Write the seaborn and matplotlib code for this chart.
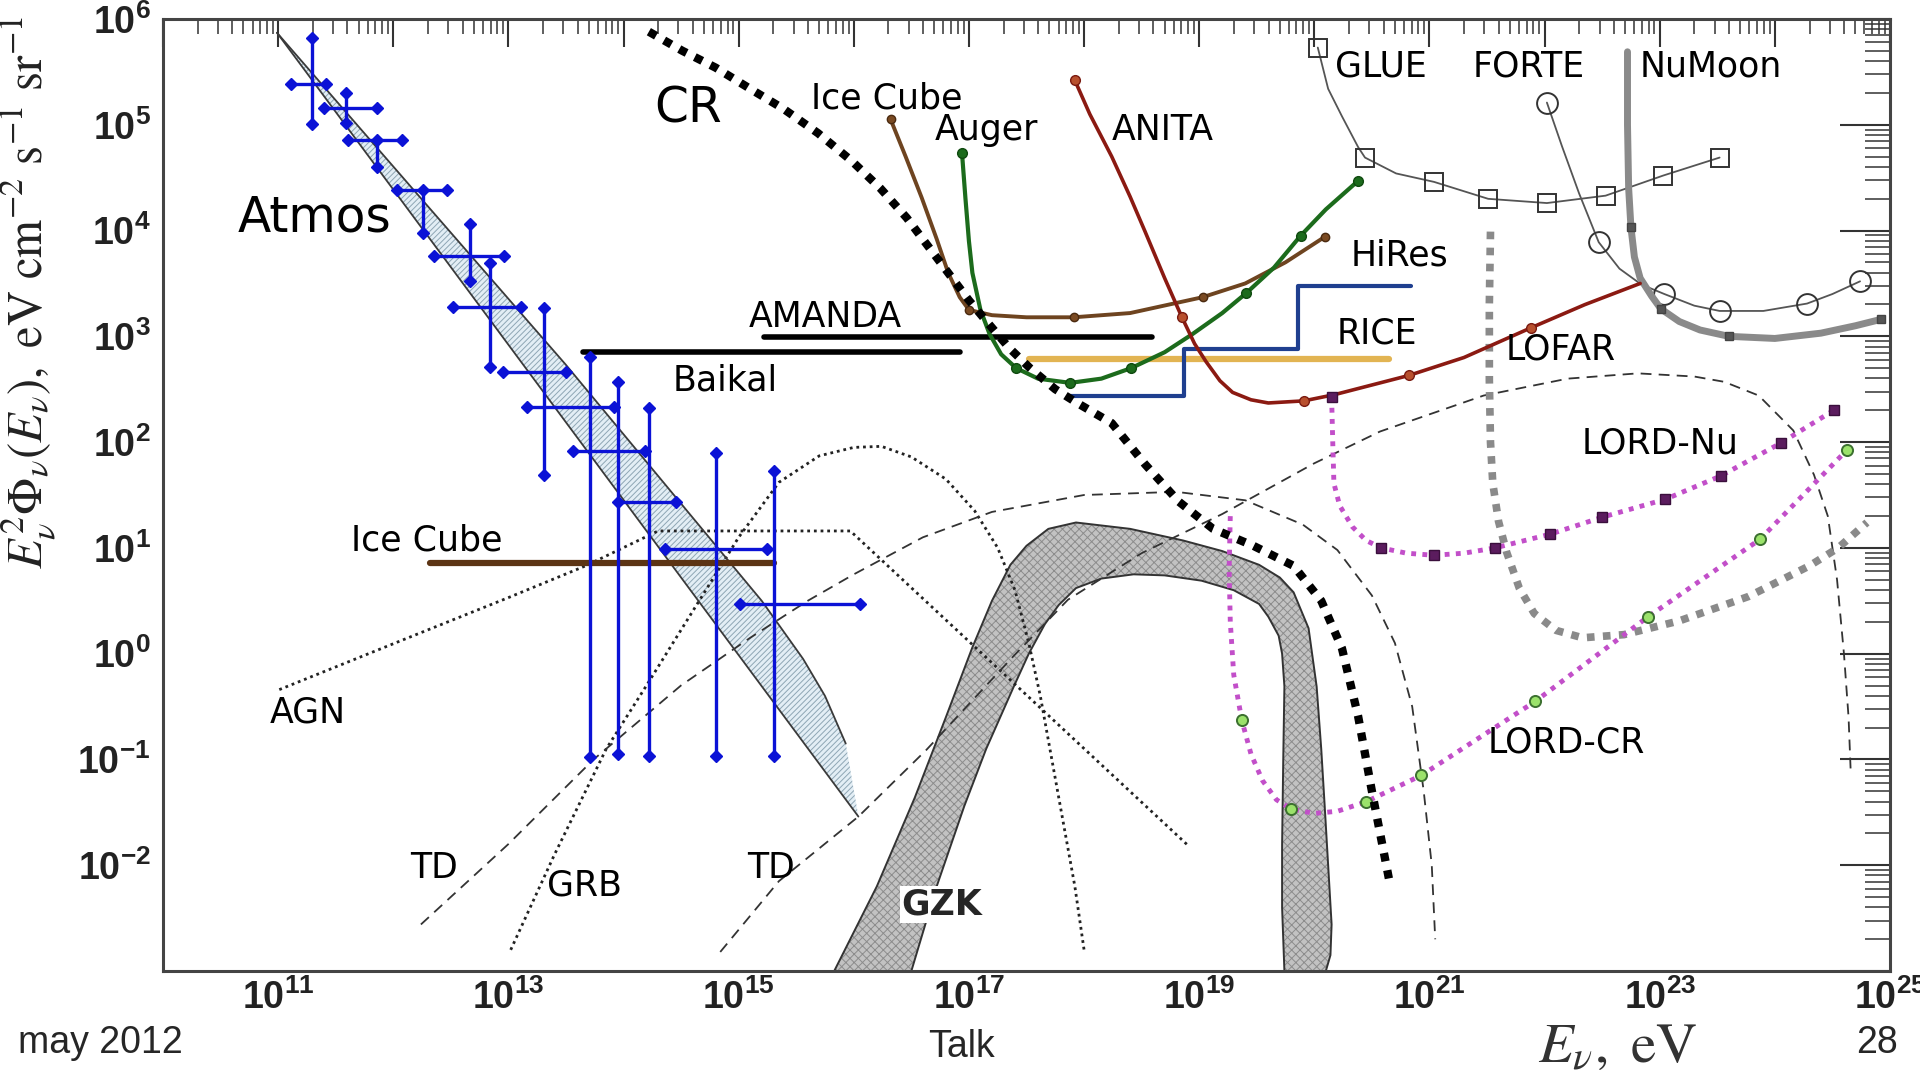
import numpy as np
import matplotlib
matplotlib.use("Agg")
import matplotlib.pyplot as plt
import seaborn as sns
from matplotlib.ticker import LogLocator, FuncFormatter, NullFormatter

sns.set_style("white")
plt.rcParams["font.family"] = ["DejaVu Sans"]
plt.rcParams["mathtext.fontset"] = "custom"
plt.rcParams["mathtext.rm"] = "Liberation Sans"
plt.rcParams["mathtext.it"] = "Liberation Sans:italic"
plt.rcParams["mathtext.bf"] = "Liberation Sans:bold"
plt.rcParams["hatch.linewidth"] = 0.7

# ------------------------------------------------------------------
# Data: every value is log10(E / eV) for x and log10(E^2 Phi) for y
# ------------------------------------------------------------------

# Atmospheric neutrino measurements (centre, vertical and horizontal bars)
atm_x   = [11.29, 11.59, 11.86, 12.26, 12.67, 12.84, 13.31, 13.71, 13.95, 14.22, 14.80, 15.31]
atm_y   = [5.39, 5.16, 4.86, 4.38, 3.76, 3.28, 2.66, 2.33, 1.92, 1.43, 0.99, 0.47]
atm_ylo = [5.01, 5.02, 4.60, 3.98, 3.52, 2.71, 1.69, -0.98, -0.95, -0.97, -0.97, -0.97]
atm_yhi = [5.82, 5.30, 4.86, 4.38, 4.06, 3.69, 3.27, 2.80, 2.57, 2.32, 1.90, 1.73]
atm_xlo = [11.11, 11.40, 11.61, 12.03, 12.35, 12.52, 12.95, 13.16, 13.56, 13.95, 14.36, 15.01]
atm_xhi = [11.42, 11.86, 12.08, 12.47, 12.96, 13.11, 13.50, 13.92, 14.19, 14.46, 15.25, 16.05]

# Atmospheric band (two boundaries)
atmband_lo_x = [10.99, 16.04]
atmband_lo_y = [5.87, -1.54]
atmband_hi_x = [10.99, 12.30, 13.50, 14.75, 15.20, 15.56, 15.75, 15.93]
atmband_hi_y = [5.87, 4.23, 2.73, 1.09, 0.50, -0.05, -0.40, -0.85]

# Horizontal limits
amanda_x, amanda_y = [15.22, 18.59], [2.99, 2.99]
baikal_x, baikal_y = [13.65, 16.92], [2.85, 2.85]
icecube_lo_x, icecube_lo_y = [12.32, 15.31], [0.86, 0.86]
rice_x, rice_y = [17.52, 20.65], [2.79, 2.79]

# HiRes step limit
hires_x = [17.87, 18.87, 18.87, 19.86, 19.86, 20.84]
hires_y = [2.44, 2.44, 2.88, 2.88, 3.48, 3.48]

# Cosmic-ray flux
cr_x = [14.22, 14.51, 14.80, 15.10, 15.39, 15.69, 15.98, 16.23, 16.46, 16.64, 16.82, 17.00,
        17.17, 17.35, 17.53, 17.75, 17.94, 18.24, 18.53, 18.82, 19.12, 19.47, 19.82, 20.06,
        20.24, 20.38, 20.50, 20.65]
cr_y = [5.88, 5.70, 5.54, 5.34, 5.15, 4.92, 4.66, 4.40, 4.12, 3.86, 3.60, 3.34,
        3.12, 2.89, 2.70, 2.50, 2.37, 2.18, 1.79, 1.44, 1.18, 1.02, 0.83, 0.50,
        0.05, -0.59, -1.30, -2.14]

# IceCube sensitivity
ic_x = [16.32, 16.45, 16.59, 16.72, 16.82, 16.92, 17.00, 17.20, 17.50, 17.91, 18.40, 19.03, 19.40, 19.75, 20.09]
ic_y = [5.05, 4.70, 4.31, 3.92, 3.60, 3.37, 3.25, 3.20, 3.18, 3.18, 3.22, 3.37, 3.50, 3.70, 3.94]
ic_mk = [0, 6, 9, 11, 14]

# Auger sensitivity
au_x = [16.94, 16.97, 17.00, 17.03, 17.10, 17.18, 17.28, 17.41, 17.60, 17.88, 18.15, 18.41,
        18.70, 18.94, 19.20, 19.41, 19.65, 19.88, 20.10, 20.38]
au_y = [4.73, 4.30, 3.90, 3.60, 3.25, 3.02, 2.83, 2.70, 2.60, 2.56, 2.60, 2.70,
        2.85, 3.02, 3.22, 3.41, 3.65, 3.95, 4.20, 4.47]
au_mk = [0, 7, 9, 11, 15, 17, 19]

# ANITA, continuing into LOFAR
an_x = [17.92, 18.05, 18.24, 18.40, 18.53, 18.70, 18.85, 18.96, 19.06, 19.18, 19.29, 19.45,
        19.60, 19.91, 20.18, 20.82, 21.30, 21.88, 22.35, 22.83]
an_y = [5.42, 5.10, 4.70, 4.32, 3.99, 3.55, 3.18, 2.93, 2.76, 2.58, 2.47, 2.40,
        2.37, 2.39, 2.45, 2.63, 2.80, 3.08, 3.30, 3.50]
an_mk = [0, 6, 13, 15, 17]

# GLUE
gl_x = [20.03, 20.12, 20.24, 20.38, 20.44, 20.71, 21.04, 21.51, 22.02, 22.53, 23.03, 23.52]
gl_y = [5.73, 5.34, 5.08, 4.79, 4.69, 4.54, 4.46, 4.30, 4.26, 4.33, 4.52, 4.69]
gl_mk = [0, 4, 6, 7, 8, 9, 10, 11]

# FORTE
fo_x = [22.02, 22.15, 22.30, 22.47, 22.65, 22.84, 23.04, 23.30, 23.52, 23.90, 24.28, 24.50, 24.74]
fo_y = [5.21, 4.80, 4.35, 3.89, 3.64, 3.49, 3.40, 3.29, 3.24, 3.24, 3.31, 3.40, 3.52]
fo_mk = [0, 3, 6, 8, 10, 12]

# NuMoon
nm_x = [22.72, 22.72, 22.73, 22.75, 22.78, 22.83, 22.93, 23.01, 23.17, 23.35, 23.60, 24.00, 24.40, 24.70, 24.92]
nm_y = [5.69, 5.00, 4.40, 4.03, 3.75, 3.55, 3.38, 3.26, 3.14, 3.06, 3.00, 2.98, 3.03, 3.10, 3.16]
nm_mk = [3, 7, 10, 14]

# Thick grey dotted limit
gd_x = [21.53, 21.52, 21.52, 21.53, 21.55, 21.60, 21.67, 21.78, 21.91, 22.10, 22.33, 22.69,
        23.17, 23.77, 24.30, 24.55, 24.80]
gd_y = [3.99, 3.30, 2.59, 2.00, 1.61, 1.25, 0.96, 0.62, 0.38, 0.22, 0.15, 0.18,
        0.31, 0.54, 0.83, 1.00, 1.24]

# LORD-Nu
ln_x = [20.15, 20.16, 20.17, 20.22, 20.33, 20.45, 20.58, 20.80, 21.04, 21.30, 21.57, 22.05,
        22.50, 23.05, 23.53, 24.05, 24.51]
ln_y = [2.43, 2.00, 1.61, 1.40, 1.20, 1.07, 1.00, 0.95, 0.93, 0.95, 1.00, 1.13,
        1.29, 1.46, 1.68, 1.99, 2.30]
ln_mk = [0, 6, 8, 10, 11, 12, 13, 14, 15, 16]

# LORD-CR
lc_x = [19.27, 19.26, 19.27, 19.30, 19.37, 19.45, 19.55, 19.67, 19.80, 20.00, 20.20, 20.45,
        20.93, 21.92, 22.90, 23.87, 24.63]
lc_y = [1.30, 0.80, 0.30, -0.20, -0.63, -0.95, -1.20, -1.38, -1.47, -1.51, -1.49, -1.40,
        -1.15, -0.45, 0.35, 1.08, 1.93]
lc_mk = [4, 8, 11, 12, 13, 14, 15, 16]

# Model fluxes
agn_x = [11.01, 12.06, 13.00, 13.67, 14.30, 15.97, 18.91]
agn_y = [-0.34, 0.12, 0.53, 0.83, 1.16, 1.16, -1.82]

grb_x = [13.02, 13.40, 13.85, 14.20, 14.60, 15.00, 15.35, 15.70, 16.00, 16.24, 16.50, 16.80,
         17.05, 17.25, 17.40, 17.52, 17.62, 17.72, 17.82, 17.92, 18.00]
grb_y = [-2.80, -1.90, -0.90, -0.30, 0.40, 1.10, 1.62, 1.87, 1.95, 1.96, 1.86, 1.65,
         1.35, 1.00, 0.60, 0.10, -0.40, -1.00, -1.60, -2.20, -2.80]

td1_x = [12.24, 13.00, 13.74, 14.50, 15.10, 15.60, 16.00, 16.60, 17.20, 18.00, 18.80, 19.40,
         19.90, 20.20, 20.50, 20.70, 20.85, 20.95, 21.02, 21.05]
td1_y = [-2.56, -1.80, -1.00, -0.30, 0.15, 0.50, 0.75, 1.10, 1.34, 1.50, 1.53, 1.45,
         1.22, 0.98, 0.55, 0.10, -0.50, -1.30, -2.00, -2.70]

td2_x = [14.84, 15.35, 16.04, 16.63, 17.39, 17.86, 18.50, 19.20, 20.00, 20.57, 21.47, 22.20,
         22.81, 23.30, 23.56, 23.86, 24.16, 24.34, 24.46, 24.54, 24.60, 24.64, 24.66]
td2_y = [-2.82, -2.15, -1.54, -0.91, -0.02, 0.51, 0.95, 1.32, 1.80, 2.10, 2.44, 2.60,
         2.65, 2.62, 2.57, 2.44, 2.11, 1.69, 1.30, 0.70, 0.00, -0.60, -1.15]

# GZK band: outer edge, then inner edge (right to left)
gzk_out_x = [15.83, 16.20, 16.53, 16.80, 17.03, 17.20, 17.36, 17.50, 17.69, 17.93, 18.40, 18.86,
             19.20, 19.52, 19.70, 19.82, 19.95, 20.02, 20.06, 20.09, 20.12, 20.15, 20.14, 20.10]
gzk_out_y = [-3.00, -2.20, -1.36, -0.60, 0.06, 0.50, 0.84, 1.02, 1.18, 1.24, 1.18, 1.07,
             0.97, 0.84, 0.72, 0.58, 0.24, -0.31, -0.90, -1.44, -2.00, -2.56, -2.85, -3.00]
gzk_in_x = [19.74, 19.72, 19.72, 19.73, 19.74, 19.72, 19.69, 19.60, 19.52, 19.30, 19.02, 18.70,
            18.43, 18.15, 17.93, 17.78, 17.66, 17.52, 17.39, 17.15, 16.96, 16.72, 16.50]
gzk_in_y = [-3.00, -2.40, -1.81, -1.00, -0.31, 0.00, 0.17, 0.35, 0.47, 0.60, 0.69, 0.74,
            0.75, 0.71, 0.62, 0.46, 0.28, 0.00, -0.31, -0.90, -1.44, -2.20, -3.00]


def P(v):
    return np.power(10.0, np.asarray(v, dtype=float))


fig = plt.figure(figsize=(19.2, 10.7), dpi=100, facecolor="white")
ax = fig.add_axes([163 / 1920, 1 - 971 / 1070, (1890 - 163) / 1920, (971 - 19) / 1070])
ax.set_xscale("log")
ax.set_yscale("log")
ax.set_xlim(1e10, 1e25)
ax.set_ylim(1e-3, 1e6)
ax.set_facecolor("white")


def curve(lx, ly, **kw):
    sns.lineplot(x=P(lx), y=P(ly), sort=False, estimator=None, ax=ax, **kw)


def marks(lx, ly, idx, **kw):
    ax.plot(P(lx)[idx], P(ly)[idx], ls="none", **kw)


# --- background model curves ---
curve(agn_x, agn_y, color="#222222", lw=2.0, linestyle=(0, (1, 1.4)), zorder=2)
curve(grb_x, grb_y, color="#222222", lw=2.0, linestyle=(0, (1, 1.4)), zorder=2)
curve(td1_x, td1_y, color="#333333", lw=1.3, linestyle=(0, (6, 4)), zorder=2)
curve(td2_x, td2_y, color="#333333", lw=1.3, linestyle=(0, (6, 4)), zorder=2)

# --- GZK band ---
gx = list(gzk_out_x) + list(gzk_in_x)
gy = list(gzk_out_y) + list(gzk_in_y)
ax.fill(P(gx), P(gy), facecolor="#c2c2c2", edgecolor="#8c8c8c", hatch="xxxx",
        linewidth=0, zorder=1.5)
ax.plot(P(gx + [gx[0]]), P(gy + [gy[0]]), color="#333333", lw=1.4, zorder=1.6)

# --- atmospheric band ---
bx = list(atmband_lo_x) + list(atmband_hi_x[::-1])
by = list(atmband_lo_y) + list(atmband_hi_y[::-1])
ax.fill(P(bx), P(by), facecolor="#e3eef5", edgecolor="#8ea6b4", hatch="//////",
        linewidth=0, zorder=1.5)
curve(atmband_lo_x, atmband_lo_y, color="#3a3a3a", lw=1.3, zorder=2.5)
curve(atmband_hi_x, atmband_hi_y, color="#3a3a3a", lw=1.3, zorder=2.5)

# --- horizontal limits ---
curve(baikal_x, baikal_y, color="black", lw=4, zorder=4)
curve(amanda_x, amanda_y, color="black", lw=4, zorder=4)
curve(icecube_lo_x, icecube_lo_y, color="#5c3414", lw=4.5, zorder=4)
curve(rice_x, rice_y, color="#e2b452", lw=4.5, zorder=4)
curve(hires_x, hires_y, color="#1f3f8f", lw=3, zorder=4)

# --- experimental sensitivities ---
curve(ic_x, ic_y, color="#6e4420", lw=2.8, zorder=5)
marks(ic_x, ic_y, ic_mk, marker="o", ms=6, mfc="#7a4a22", mec="#4a2a10", zorder=5)
curve(au_x, au_y, color="#1c6b1c", lw=3, zorder=5)
marks(au_x, au_y, au_mk, marker="o", ms=7, mfc="#1c6b1c", mec="#0f4a0f", zorder=5)
curve(an_x, an_y, color="#8b1a12", lw=2.6, zorder=5)
marks(an_x, an_y, an_mk, marker="o", ms=7, mfc="#b8502e", mec="#7a1a10", zorder=5)

curve(gl_x, gl_y, color="#555555", lw=1.3, zorder=4)
marks(gl_x, gl_y, gl_mk, marker="s", ms=13, mfc="none", mec="#333333", mew=1.4, zorder=4)
curve(fo_x, fo_y, color="#555555", lw=1.3, zorder=4)
marks(fo_x, fo_y, fo_mk, marker="o", ms=15, mfc="none", mec="#333333", mew=1.4, zorder=4)
curve(nm_x, nm_y, color="#8a8a8a", lw=5, zorder=4)
marks(nm_x, nm_y, nm_mk, marker="s", ms=6, mfc="#555555", mec="#444444", zorder=4)

curve(gd_x, gd_y, color="#8a8a8a", lw=5.5, linestyle=(0, (1, 1.1)), zorder=3)

curve(ln_x, ln_y, color="#c24fc9", lw=3.5, linestyle=(0, (1, 1.3)), zorder=5)
marks(ln_x, ln_y, ln_mk, marker="s", ms=7, mfc="#5b1c5e", mec="#3a0f3c", zorder=6)
curve(lc_x, lc_y, color="#c24fc9", lw=3.5, linestyle=(0, (1, 1.3)), zorder=5)
marks(lc_x, lc_y, lc_mk, marker="o", ms=8, mfc="#9be26b", mec="#3c7030", mew=1.4, zorder=6)

curve(cr_x, cr_y, color="black", lw=6, linestyle=(0, (1, 1.1)), zorder=6)

# --- atmospheric measurement crosses ---
for i in range(len(atm_x)):
    ax.plot(P([atm_x[i], atm_x[i]]), P([atm_ylo[i], atm_yhi[i]]), color="#0b12d6",
            lw=2.4, marker="D", ms=6.5, zorder=7)
    ax.plot(P([atm_xlo[i], atm_xhi[i]]), P([atm_y[i], atm_y[i]]), color="#0b12d6",
            lw=2.4, marker="D", ms=6.5, zorder=7)

# --- curve labels ---
label_text = ["Atmos", "CR", "Ice Cube", "Auger", "ANITA", "GLUE", "FORTE", "NuMoon",
              "HiRes", "AMANDA", "RICE", "LOFAR", "Baikal", "LORD-Nu", "Ice Cube",
              "AGN", "LORD-CR", "TD", "GRB", "TD"]
label_x = [11.32, 14.56, 16.29, 17.15, 18.68, 20.58, 21.86, 23.44,
           20.74, 15.75, 20.54, 22.14, 14.88, 23.00, 12.29,
           11.26, 22.19, 12.35, 13.66, 15.28]
label_y = [4.12, 5.15, 5.25, 4.95, 4.95, 5.55, 5.55, 5.55,
           3.76, 3.18, 3.03, 2.88, 2.58, 1.99, 1.07,
           -0.56, -0.84, -2.03, -2.19, -2.03]
label_size = [35, 35] + [25] * 18
for t, lx, ly, fs in zip(label_text, label_x, label_y, label_size):
    ax.text(P(lx), P(ly), t, fontsize=fs, ha="center", va="center", color="black", zorder=8)

ax.text(P(16.76), P(-2.37), "GZK", fontsize=25, fontweight="bold", ha="center", va="center",
        zorder=8, bbox=dict(facecolor="white", edgecolor="none", pad=1))

# --- axes styling ---
ax.xaxis.set_major_locator(LogLocator(base=10, numticks=40))
ax.yaxis.set_major_locator(LogLocator(base=10, numticks=40))
ax.xaxis.set_minor_locator(LogLocator(base=10, subs=np.arange(2, 10), numticks=400))
ax.yaxis.set_minor_locator(LogLocator(base=10, subs=np.arange(2, 10), numticks=400))
ax.xaxis.set_minor_formatter(NullFormatter())
ax.yaxis.set_minor_formatter(NullFormatter())


def xfmt(v, pos):
    e = int(round(np.log10(v)))
    return r"$\mathbf{10^{%d}}$" % e if e % 2 == 1 else ""


def yfmt(v, pos):
    e = int(round(np.log10(v)))
    return r"$\mathbf{10^{%d}}$" % e if e > -3 else ""


ax.xaxis.set_major_formatter(FuncFormatter(xfmt))
ax.yaxis.set_major_formatter(FuncFormatter(yfmt))
ax.tick_params(which="both", direction="in", top=True, right=True, colors="#333333")
ax.tick_params(axis="x", which="major", length=20, width=1.5, labelsize=27, pad=6,
               labelcolor="#222222")
ax.tick_params(axis="x", which="minor", length=11, width=1.1)
ax.tick_params(axis="y", which="major", length=36, width=1.5, labelsize=27, pad=9,
               labelcolor="#222222")
ax.tick_params(axis="y", which="minor", length=18, width=1.1)
for s in ax.spines.values():
    s.set_color("#444444")
    s.set_linewidth(2.2)

# axis titles
fig.text(28 / 1920, 1 - 292 / 1070,
         r"$E_{\nu}^{2}\Phi_{\nu}(E_{\nu}),\ \mathrm{eV\ cm^{-2}\ s^{-1}\ sr^{-1}}$",
         rotation=90, ha="center", va="center", fontsize=35, math_fontfamily="stix",
         color="#222222")
fig.text(1618 / 1920, 1 - 1046 / 1070, r"$E_{\nu},\ \mathrm{eV}$",
         ha="center", va="center", fontsize=41, color="#333333", math_fontfamily="stix")

# footer
fig.text(18 / 1920, 1 - 1043 / 1070, "may 2012", ha="left", va="center", fontsize=27,
         family="Liberation Sans")
fig.text(961 / 1920, 1 - 1047 / 1070, "Talk", ha="center", va="center", fontsize=27,
         family="Liberation Sans")
fig.text(1877 / 1920, 1 - 1043 / 1070, "28", ha="center", va="center", fontsize=27,
         family="Liberation Sans")

fig.savefig("out.png", dpi=100, facecolor="white")
